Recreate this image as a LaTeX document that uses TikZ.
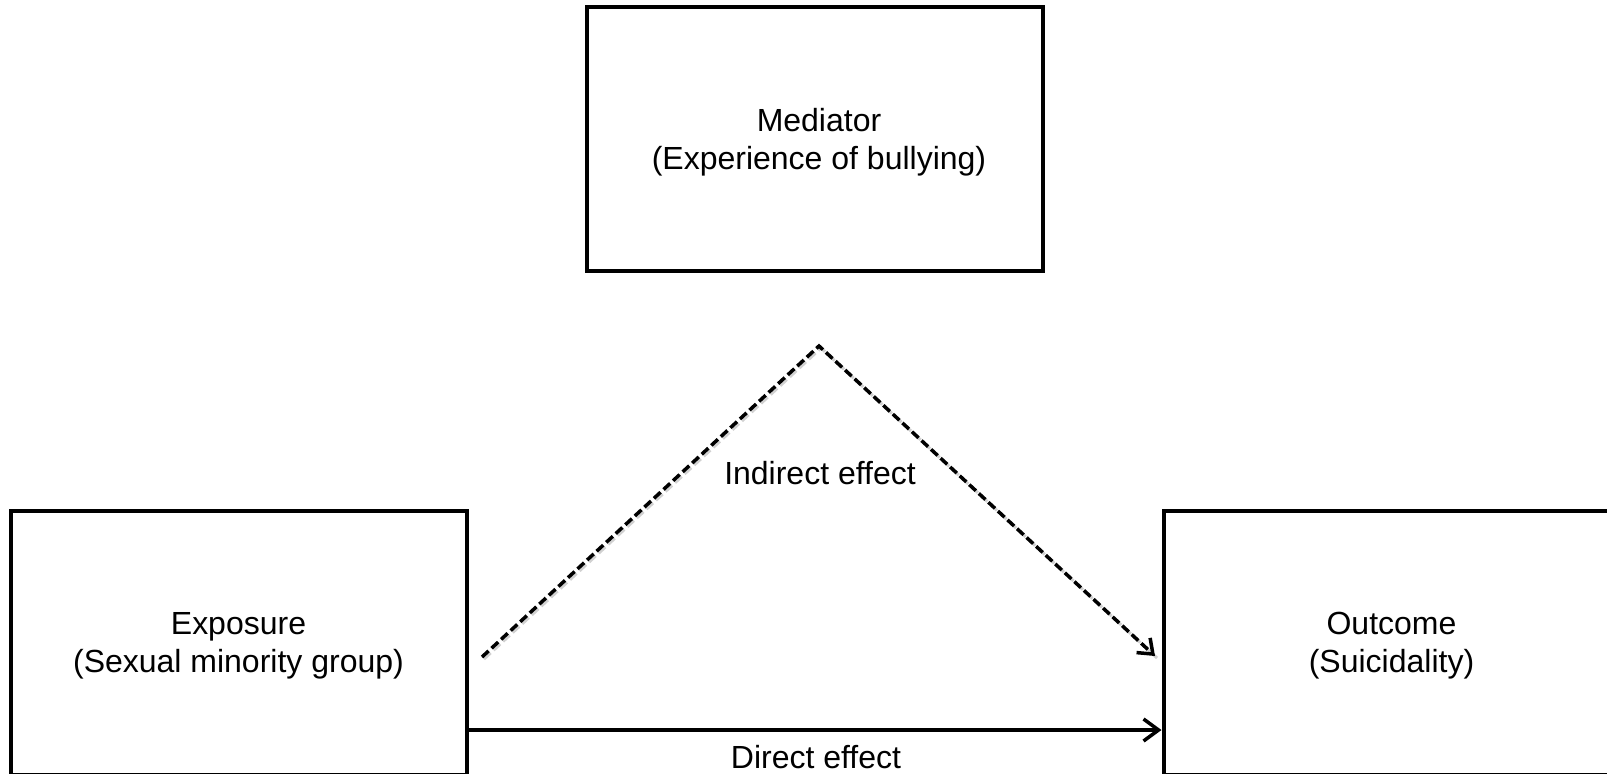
\documentclass[tikz,border=0pt]{standalone}
\usepackage{fontspec}
\setmainfont{Liberation Sans}
\usetikzlibrary{arrows.meta}
\begin{document}
\begin{tikzpicture}[x=1pt,y=-1pt,
  box/.style={draw=black, line width=4pt, rectangle, minimum width=456pt, minimum height=264pt, inner sep=0pt},
  txt/.style={align=center, font=\fontsize{32}{38}\selectfont, inner sep=0pt},
  lbl/.style={font=\fontsize{32}{38}\selectfont, inner sep=0pt},
  conn/.style={line width=3.5pt, -{Straight Barb[length=15pt,width=22pt,line width=3.5pt]}},
  dconn/.style={line width=3.5pt, dash pattern=on 9pt off 4pt, line join=miter},
  shad/.style={line width=3pt, dash pattern=on 9pt off 4pt, draw=black!18}
]
\useasboundingbox (0,0) rectangle (1607,774);
\clip (0,0) rectangle (1607,774);
\fill[white] (0,0) rectangle (1607,774);
\node[box] (med) at (815,139) {};
\node[box] (exp) at (238.5,643) {};
\node[box] (out) at (1391.5,643) {};
\node[txt] (medt) at ([xshift=4pt,yshift=-3pt]med.center) {Mediator\\(Experience of bullying)};
\node[txt] (expt) at ([yshift=-3pt]exp.center) {Exposure\\(Sexual minority group)};
\node[txt] (outt) at ([yshift=-3pt]out.center) {Outcome\\(Suicidality)};
\coordinate (s) at (482,657);
\coordinate (apex) at (819,346);
\coordinate (e) at (1155,656);
\draw[shad] ([shift={(2,2)}]s) -- ([shift={(2,2)}]apex) -- ([shift={(2,2)}]e);
\draw[dconn, -{Straight Barb[length=13pt,width=20pt,line width=3.5pt]}] (s) -- (apex) -- (e);
\draw[conn] (exp.east |- 0,730) -- (out.west |- 0,730);
\node[lbl] (ind) at (820,473) {Indirect effect};
\node[lbl] (dir) at (816,757) {Direct effect};
\end{tikzpicture}
\end{document}
